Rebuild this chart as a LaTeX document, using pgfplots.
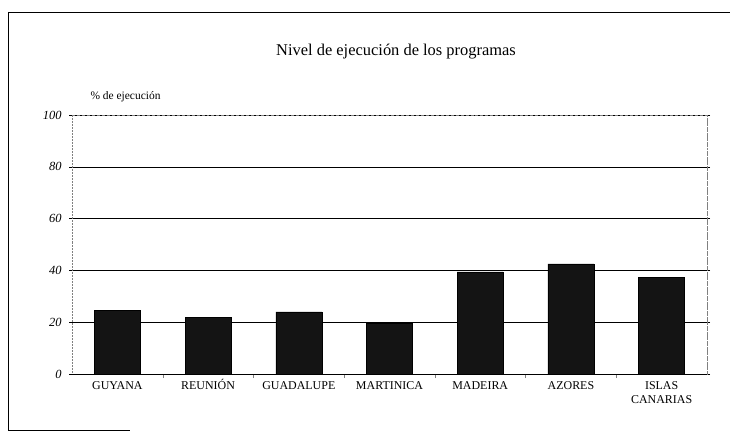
\documentclass[border=0pt]{standalone}
\usepackage{fontspec}
\setmainfont{Liberation Serif}
\usepackage{pgfplots}
\pgfplotsset{compat=1.18}
\begin{document}
\begin{tikzpicture}[x=1bp,y=1bp]
\useasboundingbox (0,0) rectangle (730,432);
% scanned page frame
\draw[line width=0.9pt] (8,420) -- (730,420);
\draw[line width=0.9pt] (8,420) -- (8,2);
\draw[line width=0.9pt] (8,2) -- (130,2);
\node[font=\fontsize{16.5}{18}\selectfont, anchor=base] at (396,377) {Nivel de ejecución de los programas};
\node[font=\fontsize{11.5}{13}\selectfont, anchor=base west] at (87,333) {\% de ejecución};
\begin{axis}[
  at={(72bp,58bp)}, anchor=south west,
  scale only axis, width=635bp, height=259bp,
  ymin=0, ymax=100, ytick={0,20,...,100},
  xmin=-0.5, xmax=6.5,
  xtick=data,
  xticklabels={GUYANA,REUNI\smash{Ó}N,GUADALUPE,MARTINICA,MADEIRA,AZORES,{ISLAS\\CANARIAS}},
  xticklabel style={align=center, font=\fontsize{12}{14}\selectfont, yshift=-1bp},
  major x tick style={draw=none},
  minor xtick={0.5,1.5,...,5.5},
  minor tick length=4bp,
  tick align=outside,
  major y tick style={black, thin},
  major tick length=3bp,
  /pgf/number format/assume math mode=true,
  yticklabel style={font=\fontsize{12.5}{13}\selectfont\itshape, xshift=-4bp},
  ymajorgrids, grid style={black, line width=0.6pt},
  axis line style={gray, densely dotted, line width=0.5pt},
  axis x line*=bottom,
  ybar, bar width=46bp,
  clip=false,
]
\draw[black, line width=0.8pt] (axis cs:-0.5,0) -- (axis cs:6.5,0);
\draw[gray, densely dashed, line width=0.5pt] (axis cs:-0.5,100) -- (axis cs:6.5,100) -- (axis cs:6.5,0);
\addplot[fill=black!92, draw=black, bar shift=0pt] coordinates {
  (0,24.5) (1,21.8) (2,24.0) (3,19.6) (4,39.4) (5,42.5) (6,37.3)
};
\end{axis}
\end{tikzpicture}
\end{document}
